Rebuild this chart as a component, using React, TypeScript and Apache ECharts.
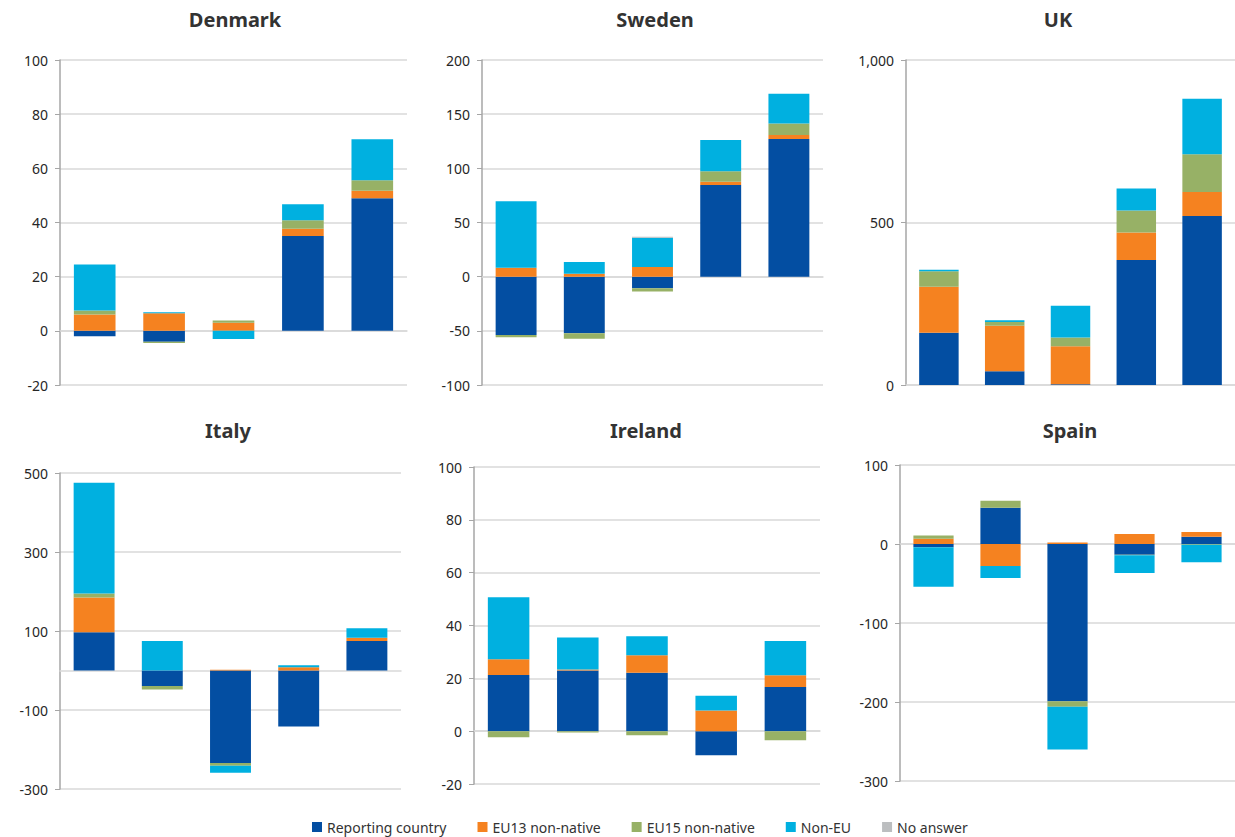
import React, { useEffect, useRef } from "react";
import * as echarts from "echarts";

const categories = ["1", "2", "3", "4", "5"];
const seriesNames = ["Reporting country", "EU13 non-native", "EU15 non-native", "Non-EU", "No answer"];
const seriesColors = ["#034ea2", "#f58220", "#97b166", "#00b0e0", "#bcbec0"];
const countries = ["Denmark", "Sweden", "UK", "Italy", "Ireland", "Spain"];

// values per country: [Reporting, EU13, EU15, Non-EU, No answer]
const denmarkValues = [
  [-2, -4, 0, 35, 49],
  [6, 6.5, 3, 2.7, 2.7],
  [1.5, -0.5, 0.8, 3.1, 3.9],
  [17, 0.4, -3, 5.9, 15.1],
  [0, 0, 0, 0, 0],
];
const swedenValues = [
  [-53.8, -52.3, -10.8, 84.6, 127],
  [8.3, 2.8, 8.9, 3.1, 3.7],
  [-2.2, -4.9, -3, 9.5, 10.8],
  [61.2, 10.8, 27, 28.9, 27.4],
  [0, 0, 1, 0, 0],
];
const ukValues = [
  [161, 42, 2, 385, 520],
  [141, 140, 117, 84, 74],
  [48, 12, 27, 68, 116],
  [5, 5, 98, 68, 171],
  [0, 0, 0, 0, 0],
];
const italyValues = [
  [97, -39, -234, -142, 75],
  [88, 0, 2, 8, 8],
  [10, -9, -7, 0, 0],
  [280, 75, -18, 5, 24],
  [0, 0, 0, 0, 0],
];
const irelandValues = [
  [21.3, 23, 22.1, -9.1, 16.7],
  [5.9, 0.3, 6.6, 7.8, 4.5],
  [-2.3, -0.5, -1.5, 0, -3.4],
  [23.5, 12.2, 7.2, 5.6, 12.9],
  [0, 0, 0, 0, 0],
];
const spainValues = [
  [-4, 46, -199, -13.5, 9.3],
  [6.7, -28, 2, 12.6, 5.9],
  [4.2, 8.8, -7, -0.8, -1],
  [-50, -15, -54, -22.3, -22],
  [0, 0, 0, 0, 0],
];
const allValues = [denmarkValues, swedenValues, ukValues, italyValues, irelandValues, spainValues];

// axis ranges: [min, max, interval]
const axisRanges = [
  [-20, 100, 20],
  [-100, 200, 50],
  [0, 1000, 500],
  [-300, 500, 200],
  [-20, 100, 20],
  [-300, 100, 100],
];

export default function App() {
  const ref = useRef<HTMLDivElement>(null);
  useEffect(() => {
    document.body.style.margin = "0";
    const chart = echarts.init(ref.current!, undefined, { renderer: "svg" });
    const grids = [
      { left: 60, top: 60, width: 347, height: 325 },
      { left: 482, top: 60, width: 341, height: 325 },
      { left: 906, top: 60, width: 333, height: 325 },
      { left: 60, top: 473, width: 341, height: 316 },
      { left: 474, top: 467, width: 346, height: 317 },
      { left: 900, top: 465, width: 340, height: 316 },
    ];
    const titlePos = [
      [235, 19],
      [655, 19],
      [1058, 19],
      [228, 430],
      [646, 430],
      [1070, 430],
    ];
    const font = "'Noto Sans', sans-serif";
    const xAxis = grids.map((_, i) => ({
      type: "category",
      gridIndex: i,
      data: categories,
      axisLabel: { show: false },
      axisTick: { show: false },
      axisLine: { show: true, onZero: true, lineStyle: { color: "#d9d9d9", width: 1.5 } },
    }));
    const yAxis = grids.map((_, i) => ({
      type: "value",
      gridIndex: i,
      min: axisRanges[i][0],
      max: axisRanges[i][1],
      interval: axisRanges[i][2],
      axisLine: { show: true, lineStyle: { color: "#a6a6a6", width: 1.5 } },
      axisTick: { show: true, length: 5, lineStyle: { color: "#a6a6a6" } },
      splitLine: { show: true, lineStyle: { color: "#d9d9d9", width: 1.5 } },
      axisLabel: {
        color: "#262626",
        fontSize: 14,
        fontFamily: font,
        margin: 12,
        formatter: (v: number) => v.toLocaleString("en-US"),
      },
    }));
    const series: any[] = [];
    allValues.forEach((vals, ci) => {
      vals.forEach((data, si) => {
        series.push({
          type: "bar",
          name: seriesNames[si],
          xAxisIndex: ci,
          yAxisIndex: ci,
          stack: countries[ci],
          barWidth: "60%",
          data,
          itemStyle: { color: seriesColors[si] },
        });
      });
    });
    chart.setOption({
      animation: false,
      grid: grids,
      xAxis,
      yAxis,
      series,
      legend: {
        data: seriesNames,
        top: 819,
        left: 312,
        padding: 0,
        icon: "rect",
        itemWidth: 10,
        itemHeight: 10,
        itemGap: 31,
        textStyle: { fontSize: 14, color: "#333", fontFamily: font, lineHeight: 16 },
      },
      graphic: countries.map((c, i) => ({
        type: "text",
        x: titlePos[i][0],
        y: titlePos[i][1],
        style: {
          text: c,
          textAlign: "center",
          textVerticalAlign: "middle",
          font: `bold 20px ${font}`,
          fill: "#333",
        },
      })),
    });
    return () => chart.dispose();
  }, []);
  return <div ref={ref} style={{ width: 1235, height: 837 }} />;
}
